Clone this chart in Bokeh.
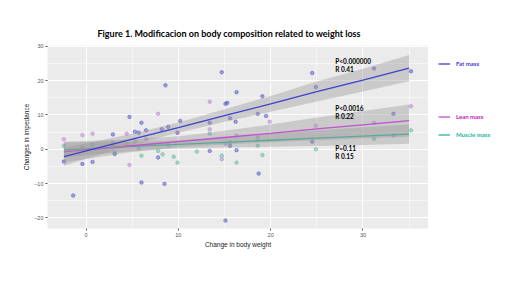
from bokeh.plotting import figure
from bokeh.layouts import row
from bokeh.models import Legend, LegendItem, Label, Title, FixedTicker
from bokeh.embed import file_html
from bokeh.resources import INLINE

# ---- data ----
fat_x = [-2.4, -1.4, -0.4, 0.7, 2.9, 3.1, 4.7, 5.3, 5.7, 6.0, 6.0, 6.5, 7.8, 8.2, 8.5, 8.6, 8.9,
         10.2, 9.9, 13.4, 13.4, 14.7, 15.1, 15.3, 15.6, 15.6, 16.2, 16.3, 16.3, 18.6, 18.7, 19.1,
         19.5, 15.1, 24.5, 24.5, 33.3, 35.2, 31.2, 24.9]
fat_y = [-3.6, -13.5, -4.3, -3.7, 4.3, -1.4, 9.4, 5.1, 4.8, 7.7, -9.7, 5.5, -2.4, 5.8, -10.1, 18.6, 6.5,
         8.2, 4.8, 7.7, -0.5, 22.4, 13.2, 13.5, 9.0, 1.0, 8.0, 16.6, -0.3, 10.3, -7.1, 15.4,
         9.7, -20.8, 22.2, 2.2, 10.3, 22.7, 23.5, 18.1]

lean_x = [-2.4, -0.4, 0.7, 2.9, 4.4, 5.3, 6.5, 7.8, 8.9, 9.9, 13.4, 13.4, 15.1, 16.3, 18.6, 19.9,
          24.9, 31.2, 35.2, 4.7, 14.7]
lean_y = [2.9, 4.1, 4.5, 2.0, 4.5, 2.4, 3.0, 10.3, 1.2, 4.8, 5.8, 13.8, 1.6, 4.0, 3.3, 8.0,
          6.8, 7.7, 12.5, -4.6, -2.9]

muscle_x = [-2.4, -0.4, 0.7, 2.9, 4.4, 5.7, 6.0, 8.3, 9.5, 9.9, 12.0, 13.4, 14.7, 15.6, 16.3, 18.6,
            19.1, 24.9, 31.2, 33.3, 35.2, 3.1, 7.8]
muscle_y = [1.0, 0.5, 1.2, 0.8, 1.5, 0.2, -1.9, -1.5, -2.2, -3.9, -0.7, 4.5, -1.9, 2.0, -3.9, 1.0,
            -1.7, 0.0, 3.0, 4.0, 5.5, -1.0, -0.5]

# fitted lines and confidence bands
band_x = [-2.4, 5, 10, 15, 20, 25, 30, 35]
fat_fit = [-2.2, 2.9, 6.3, 9.8, 13.2, 16.8, 20.1, 23.6]
fat_half = [2.6, 1.6, 1.5, 1.8, 2.3, 2.9, 3.3, 3.8]
lean_fit = [-0.8, 1.0, 2.2, 3.4, 4.6, 5.9, 7.1, 8.3]
lean_half = [3.0, 1.8, 1.6, 2.0, 2.6, 3.3, 4.0, 4.7]
muscle_fit = [-0.2, 0.8, 1.4, 2.0, 2.6, 3.2, 3.8, 4.4]
muscle_half = [2.2, 1.3, 1.2, 1.5, 1.9, 2.3, 2.6, 2.8]

series_names = ["Fat mass", "Lean mass", "Muscle mass"]
stats = [("P<0.000000", "R 0.41"), ("P<0.0016", "R 0.22"), ("P=0.11", "R 0.15")]
stat_pos_x = 27.0
stat_pos_y = [(25.4, 23.2), (11.9, 9.6), (0.2, -2.2)]

x_ticks = [0, 10, 20, 30]
y_ticks = [-20, -10, 0, 10, 20, 30]
x_minor = [-5, 5, 15, 25, 35]
y_minor = [-15, -5, 5, 15, 25]

colors = ["#3f3fd0", "#c24fd4", "#2fb597"]
label_colors = ["#4a3ad0", "#c020c8", "#22b5a0"]
pt_colors = ["#4545c8", "#b87ad0", "#55b39c"]

p = figure(width=428, height=292, output_backend="svg", toolbar_location=None,
           x_range=(-4.18, 37.1), y_range=(-23.1, 30.2),
           min_border_left=47, min_border_right=0, min_border_top=45, min_border_bottom=64)
p.background_fill_color = "#ebebeb"
p.border_fill_color = "white"
p.outline_line_color = None

# grid
p.xgrid.ticker = FixedTicker(ticks=x_ticks, minor_ticks=x_minor)
p.ygrid.ticker = FixedTicker(ticks=y_ticks, minor_ticks=y_minor)
for g in (p.xgrid, p.ygrid):
    g.grid_line_color = "white"
    g.grid_line_width = 1.0
    g.minor_grid_line_color = "white"
    g.minor_grid_line_width = 0.5

p.xaxis.ticker = FixedTicker(ticks=x_ticks)
p.yaxis.ticker = FixedTicker(ticks=y_ticks)
for ax in (p.xaxis, p.yaxis):
    ax.axis_line_color = None
    ax.major_tick_line_color = "#555555"
    ax.major_tick_in = 0
    ax.major_tick_out = 2
    ax.minor_tick_line_color = None
    ax.major_label_text_font = "Liberation Sans"
    ax.major_label_text_font_size = "5.5px"
    ax.major_label_text_color = "#555555"
    ax.major_label_standoff = 2
    ax.axis_label_text_font = "Liberation Sans"
    ax.axis_label_text_font_size = "6.5px"
    ax.axis_label_text_font_style = "normal"
    ax.axis_label_text_color = "#222222"
p.xaxis.axis_label_standoff = 1
p.yaxis.axis_label_standoff = 1
p.xaxis.axis_label = "Change in body weight"
p.yaxis.axis_label = "Changes in impedance"

# title
t = Title(text="Figure 1. Modificacion on body composition related to weight loss",
          align="left", offset=50, standoff=14, text_font="Lato", text_font_style="bold",
          text_font_size="9px", text_color="black")
p.add_layout(t, "above")

# points first (drawn under the smooths, as in the source)
for xs, ys, c in zip([fat_x, lean_x, muscle_x], [fat_y, lean_y, muscle_y], pt_colors):
    p.scatter(xs, ys, size=3.5, fill_color=c, line_color=c, fill_alpha=0.45, line_alpha=0.5)

# smooth layers: muscle, lean, fat (ribbon then line each)
fits = [fat_fit, lean_fit, muscle_fit]
halves = [fat_half, lean_half, muscle_half]
for i in (2, 1, 0):
    f, h = fits[i], halves[i]
    lo = [a - b for a, b in zip(f, h)]
    hi = [a + b for a, b in zip(f, h)]
    p.varea(x=band_x, y1=lo, y2=hi, fill_color="#999999", fill_alpha=0.4)
    p.line(band_x, f, line_color=colors[i], line_width=1.3)

# stats text
for (s1, s2), (y1, y2) in zip(stats, stat_pos_y):
    for s, yy in ((s1, y1), (s2, y2)):
        p.add_layout(Label(x=stat_pos_x, y=yy, text=s, text_font="Lato", text_font_style="bold",
                           text_font_size="6.5px", text_color="black", text_baseline="middle"))

# ---- legend strip on the right (one legend per series, each in its own colour) ----
q = figure(width=92, height=292, output_backend="svg", toolbar_location=None, title=None,
           x_range=(0, 1), y_range=(0, 1), x_axis_location=None, y_axis_location=None,
           min_border_left=0, min_border_right=0, min_border_top=45, min_border_bottom=64)
q.outline_line_color = None
q.grid.visible = False
q.background_fill_color = "white"
q.border_fill_color = "white"
legend_offsets = [(10, 158), (10, 105), (10, 87)]
for name, c, lc, loc in zip(series_names, colors, label_colors, legend_offsets):
    r = q.line([-5, -4], [-5, -4], line_color=c, line_width=1.3)
    lg = Legend(items=[LegendItem(label=name, renderers=[r])], location=loc,
                glyph_width=12, glyph_height=13, label_height=13, label_standoff=6,
                padding=0, margin=0, border_line_color=None, background_fill_alpha=0,
                label_text_font="Lato", label_text_font_style="bold",
                label_text_font_size="6px", label_text_color=lc)
    q.add_layout(lg, "center")

layout = row(p, q)
open("out.html", "w").write(file_html(layout, INLINE))
